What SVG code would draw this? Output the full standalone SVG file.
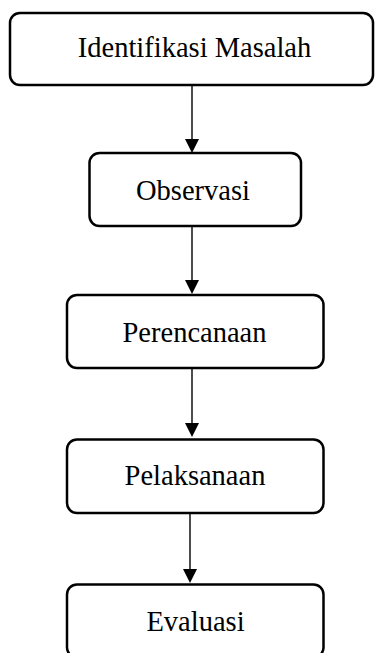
<svg xmlns="http://www.w3.org/2000/svg" width="375" height="653" viewBox="0 0 375 653">
<style>
.box{fill:#fff;stroke:#000;stroke-width:2.5}
.lbl{font-family:"Liberation Serif","Times New Roman",serif;font-size:28.5px;fill:#000;text-anchor:middle}
.conn line{stroke:#000;stroke-width:1.4}
.conn polygon{fill:#000}
</style>
<rect width="375" height="653" fill="#fff"/>
<g class="conn" id="connectors">
<line x1="192" y1="85" x2="192" y2="140"/>
<polygon points="185,139 199,139 192,153"/>
<line x1="192" y1="226" x2="192" y2="281"/>
<polygon points="185,280 199,280 192,294"/>
<line x1="192" y1="368" x2="192" y2="424"/>
<polygon points="185,423 199,423 192,437"/>
<line x1="190" y1="513" x2="190" y2="570"/>
<polygon points="183,569 197,569 190,583"/>
</g>
<g id="identifikasi">
<rect class="box" x="10" y="13" width="363" height="72" rx="10"/>
<text class="lbl" x="194.5" y="57">Identifikasi Masalah</text>
</g>
<g id="observasi">
<rect class="box" x="89.5" y="153" width="211.5" height="73" rx="10"/>
<text class="lbl" x="193" y="199.5">Observasi</text>
</g>
<g id="perencanaan">
<rect class="box" x="67" y="295" width="256.5" height="73" rx="10"/>
<text class="lbl" x="194.5" y="342">Perencanaan</text>
</g>
<g id="pelaksanaan">
<rect class="box" x="67" y="439.5" width="256.5" height="73.5" rx="10"/>
<text class="lbl" x="195" y="485">Pelaksanaan</text>
</g>
<g id="evaluasi">
<rect class="box" x="67" y="584.5" width="256.5" height="73" rx="10"/>
<text class="lbl" x="195.5" y="631">Evaluasi</text>
</g>
</svg>
